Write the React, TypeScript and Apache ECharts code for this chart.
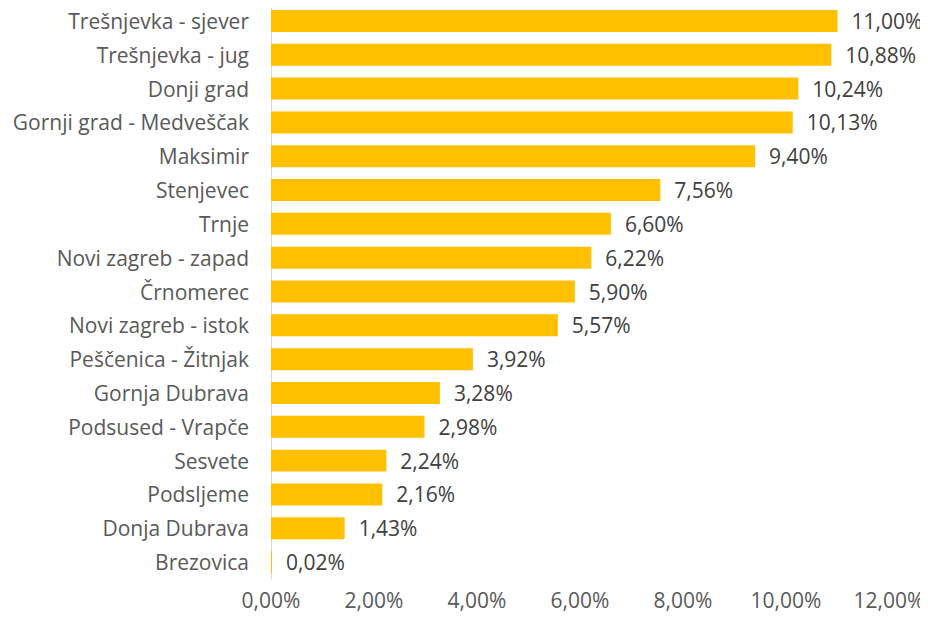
import React, { useEffect, useRef } from "react";
import * as echarts from "echarts";

const categories = [
  "Trešnjevka - sjever",
  "Trešnjevka - jug",
  "Donji grad",
  "Gornji grad - Medveščak",
  "Maksimir",
  "Stenjevec",
  "Trnje",
  "Novi zagreb - zapad",
  "Črnomerec",
  "Novi zagreb - istok",
  "Peščenica - Žitnjak",
  "Gornja Dubrava",
  "Podsused - Vrapče",
  "Sesvete",
  "Podsljeme",
  "Donja Dubrava",
  "Brezovica",
];

const values = [11.0, 10.88, 10.24, 10.13, 9.4, 7.56, 6.6, 6.22, 5.9, 5.57, 3.92, 3.28, 2.98, 2.24, 2.16, 1.43, 0.02];

const xMin = 0;
const xMax = 12;
const xStep = 2;

const fmt = (v: number) => v.toFixed(2).replace(".", ",") + "%";

export default function App() {
  const ref = useRef<HTMLDivElement>(null);
  useEffect(() => {
    if (!ref.current) return;
    const chart = echarts.init(ref.current, null, { renderer: "svg" });
    const font = "Open Sans";
    chart.setOption({
      animation: false,
      grid: { left: 271, right: 39, top: 4, bottom: 41, containLabel: false },
      xAxis: {
        type: "value",
        min: xMin,
        max: xMax,
        interval: xStep,
        axisLine: { show: false },
        axisTick: { show: false },
        splitLine: { show: false },
        axisLabel: {
          formatter: (v: number) => fmt(v),
          color: "#595959",
          fontFamily: font,
          fontSize: 21,
          margin: 10,
        },
      },
      yAxis: {
        type: "category",
        data: categories,
        inverse: true,
        axisLine: { show: true, lineStyle: { color: "#D9D9D9", width: 1 } },
        axisTick: { show: false },
        axisLabel: {
          color: "#595959",
          fontFamily: font,
          fontSize: 21,
          margin: 22,
        },
      },
      series: [
        {
          type: "bar",
          data: values,
          barCategoryGap: "35%",
          itemStyle: { color: "#FFC000" },
          label: {
            show: true,
            position: "right",
            distance: 14,
            formatter: (p: any) => fmt(p.value),
            color: "#404040",
            fontFamily: font,
            fontSize: 21,
          },
        },
      ],
    });
    return () => chart.dispose();
  }, []);
  return <div ref={ref} style={{ width: 928, height: 620, margin: -8 }} />;
}
